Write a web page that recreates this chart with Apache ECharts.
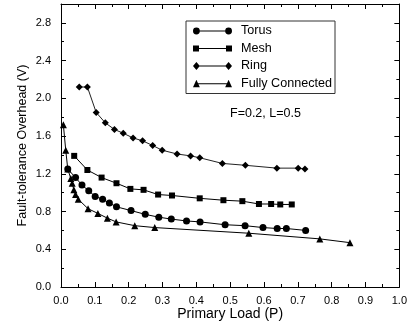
<!DOCTYPE html>
<html>
<head>
<meta charset="utf-8">
<script src="https://cdn.jsdelivr.net/npm/echarts@6/dist/echarts.min.js"></script>
<style>
  html, body { margin: 0; padding: 0; background: #fff; }
  #chart { width: 410px; height: 328px; }
</style>
</head>
<body>
<div id="chart"></div>
<script>
var torus_x = [0.020, 0.043, 0.062, 0.082, 0.101, 0.123, 0.143, 0.164, 0.207, 0.249, 0.289, 0.326, 0.371, 0.411, 0.485, 0.544, 0.597, 0.639, 0.666, 0.723];
var torus_y = [1.25, 1.16, 1.08, 1.02, 0.96, 0.93, 0.89, 0.85, 0.81, 0.77, 0.74, 0.72, 0.70, 0.69, 0.66, 0.65, 0.63, 0.62, 0.62, 0.60];

var mesh_x = [0.039, 0.078, 0.120, 0.164, 0.205, 0.244, 0.287, 0.328, 0.410, 0.480, 0.536, 0.585, 0.621, 0.648, 0.682];
var mesh_y = [1.39, 1.24, 1.16, 1.10, 1.04, 1.03, 0.98, 0.97, 0.94, 0.92, 0.91, 0.88, 0.88, 0.875, 0.875];

var ring_x = [0.054, 0.078, 0.104, 0.131, 0.158, 0.184, 0.213, 0.241, 0.271, 0.299, 0.343, 0.383, 0.410, 0.477, 0.545, 0.638, 0.701, 0.721];
var ring_y = [2.12, 2.12, 1.85, 1.74, 1.67, 1.63, 1.58, 1.55, 1.50, 1.45, 1.41, 1.39, 1.37, 1.31, 1.29, 1.26, 1.26, 1.25];

var fc_x = [0.007, 0.014, 0.020, 0.029, 0.033, 0.038, 0.043, 0.051, 0.080, 0.109, 0.137, 0.163, 0.218, 0.277, 0.555, 0.765, 0.854];
var fc_y = [1.72, 1.45, 1.25, 1.15, 1.10, 1.03, 0.98, 0.93, 0.83, 0.78, 0.73, 0.69, 0.65, 0.63, 0.57, 0.51, 0.47];

var series_names = ["Torus", "Mesh", "Ring", "Fully Connected"];
var note_text = "F=0.2, L=0.5";

function pairs(xs, ys) {
  return xs.map(function (x, i) { return [x, ys[i]]; });
}

var font = "Liberation Sans, Arial, sans-serif";

// legend icons: line with a marker at each end
var icons = {
  "Torus": "path://M0,4A3.5,3.5,0,1,1,7,4A3.5,3.5,0,1,1,0,4ZM3.5,3.5L36.5,3.5L36.5,4.5L3.5,4.5ZM33,4A3.5,3.5,0,1,1,40,4A3.5,3.5,0,1,1,33,4Z",
  "Mesh": "path://M0.5,1L6.5,1L6.5,7L0.5,7ZM3.5,3.5L36.5,3.5L36.5,4.5L3.5,4.5ZM33.5,1L39.5,1L39.5,7L33.5,7Z",
  "Ring": "path://M3.5,0L7,4L3.5,8L0,4ZM3.5,3.5L36.5,3.5L36.5,4.5L3.5,4.5ZM36.5,0L40,4L36.5,8L33,4Z",
  "Fully Connected": "path://M3.5,0L7,7.5L0,7.5ZM3.5,3.5L36.5,3.5L36.5,4.5L3.5,4.5ZM36.5,0L40,7.5L33,7.5Z"
};

var chart = echarts.init(document.getElementById("chart"), null, { renderer: "canvas" });

var axisLine = { show: true, onZero: false, lineStyle: { color: "#000", width: 1 } };

var option = {
  animation: false,
  backgroundColor: "#fff",
  textStyle: { fontFamily: font },
  grid: { left: 61, right: 7, top: 4, bottom: 41 },
  legend: {
    left: 186,
    top: 21,
    orient: "vertical",
    padding: [3, 3, 3, 7],
    itemGap: 3.5,
    itemWidth: 39,
    itemHeight: 8,
    borderColor: "#333",
    borderWidth: 1,
    textStyle: { fontFamily: font, fontSize: 12.6, color: "#000", lineHeight: 14, padding: [0, 0, 0, 4] },
    data: series_names.map(function (n) {
      return { name: n, icon: icons[n], itemStyle: { color: "#000" } };
    })
  },
  graphic: [{
    type: "text",
    left: 230,
    top: 107,
    style: { text: note_text, font: "12.5px " + font, fill: "#000" }
  }],
  xAxis: [{
    type: "value",
    min: 0,
    max: 1.0,
    interval: 0.1,
    name: "Primary Load (P)",
    nameLocation: "middle",
    nameGap: 20,
    nameMoveOverlap: false,
    nameTextStyle: { fontSize: 14, color: "#000", fontFamily: font },
    axisLine: axisLine,
    axisTick: { inside: true, length: 5, lineStyle: { color: "#000" } },
    minorTick: { show: true, splitNumber: 2, length: 3, lineStyle: { color: "#000" } },
    splitLine: { show: false },
    axisLabel: { fontSize: 11, color: "#000", margin: 8, fontFamily: font, formatter: function (v) { return v.toFixed(1); } }
  }, {
    type: "value",
    position: "top",
    min: 0,
    max: 1.0,
    interval: 0.1,
    axisLine: axisLine,
    axisTick: { inside: true, length: 5, lineStyle: { color: "#000" } },
    minorTick: { show: true, splitNumber: 2, length: 3, lineStyle: { color: "#000" } },
    splitLine: { show: false },
    axisLabel: { show: false }
  }],
  yAxis: [{
    type: "value",
    min: 0,
    max: 3.0,
    interval: 0.4,
    name: "Fault-tolerance Overhead (V)",
    nameLocation: "middle",
    nameGap: 32,
    nameMoveOverlap: false,
    nameTextStyle: { fontSize: 12.5, color: "#000", fontFamily: font },
    axisLine: axisLine,
    axisTick: { inside: true, length: 5, lineStyle: { color: "#000" } },
    minorTick: { show: true, splitNumber: 2, length: 3, lineStyle: { color: "#000" } },
    splitLine: { show: false },
    axisLabel: { fontSize: 11, color: "#000", margin: 10, fontFamily: font, showMaxLabel: false,
      formatter: function (v) { return v.toFixed(1); } }
  }, {
    type: "value",
    position: "right",
    min: 0,
    max: 3.0,
    interval: 0.4,
    axisLine: axisLine,
    axisTick: { inside: true, length: 5, lineStyle: { color: "#000" } },
    minorTick: { show: true, splitNumber: 2, length: 3, lineStyle: { color: "#000" } },
    splitLine: { show: false },
    axisLabel: { show: false }
  }],
  series: [
    {
      name: "Torus", type: "line", data: pairs(torus_x, torus_y),
      symbol: "circle", symbolSize: 7,
      lineStyle: { color: "#000", width: 1 }, itemStyle: { color: "#000" }
    },
    {
      name: "Mesh", type: "line", data: pairs(mesh_x, mesh_y),
      symbol: "rect", symbolSize: 6,
      lineStyle: { color: "#000", width: 1 }, itemStyle: { color: "#000" }
    },
    {
      name: "Ring", type: "line", data: pairs(ring_x, ring_y),
      symbol: "diamond", symbolSize: 7,
      lineStyle: { color: "#222", width: 1 }, itemStyle: { color: "#000" }
    },
    {
      name: "Fully Connected", type: "line", data: pairs(fc_x, fc_y),
      symbol: "triangle", symbolSize: 7,
      lineStyle: { color: "#000", width: 1 }, itemStyle: { color: "#000" }
    }
  ]
};

chart.setOption(option);
</script>
</body>
</html>
